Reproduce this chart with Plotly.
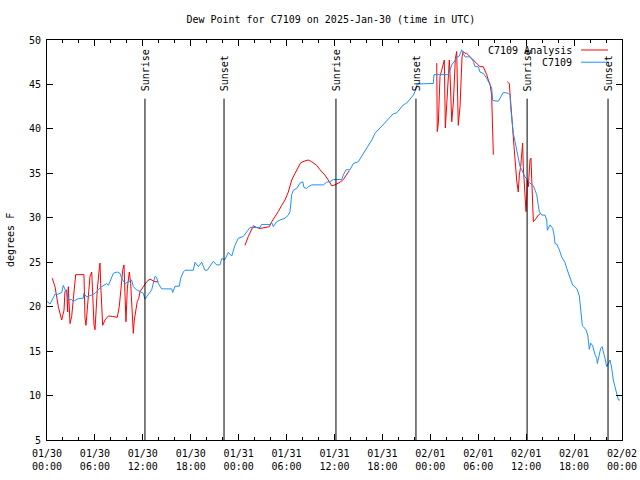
import pandas as pd
import plotly.graph_objects as go

START = pd.Timestamp("2025-01-30 00:00")

# Observed dew point (C7109): hours since 2025-01-30 00:00 UTC, degrees F
obs_hours = [0.0, 0.38, 1.0, 1.38, 1.84, 2.04, 2.47, 2.67, 3.09, 3.29, 3.92, 4.55, 4.6, 4.97, 5.6,
             6.01, 6.42, 6.85, 7.48, 7.68, 7.89, 8.3, 8.8, 9.14, 9.35, 9.77, 10.18, 10.6, 10.8, 11.23,
             11.65, 12.06, 12.27, 12.68, 13.11, 13.52, 13.73, 13.94, 14.36, 14.78, 15.61, 15.74, 16.03,
             16.57, 16.74, 17.07, 17.28, 18.32, 18.53, 18.95, 19.37, 19.78, 20.07, 20.82, 21.25, 21.66,
             21.88, 22.29, 22.7, 23.13, 23.54, 23.95, 24.58, 25.0, 25.42, 26.67, 26.88, 27.92, 28.14,
             28.34, 28.76, 29.18, 29.8, 30.22, 30.43, 30.64, 30.84, 31.27, 31.68, 32.02, 32.18, 32.52,
             32.72, 33.15, 34.6, 35.02, 35.44, 35.85, 36.9, 37.1, 37.44, 37.94, 38.36, 38.98, 39.41,
             39.82, 40.23, 40.66, 41.07, 41.49, 41.91, 42.11, 42.95, 43.36, 43.79, 44.2, 44.62, 45.04,
             45.46, 45.87, 46.08, 46.37, 47.96, 48.37, 48.46, 50.25, 50.46, 50.68, 51.09, 51.38, 51.63,
             51.93, 52.13, 52.34, 52.97, 53.38, 53.59, 54.01, 54.22, 54.63, 55.06, 55.26, 55.47, 55.68,
             55.81, 56.51, 56.94, 57.14, 57.77, 57.98, 58.06, 58.19, 58.32, 58.39, 58.6, 58.81, 59.01,
             59.23, 59.44, 59.64, 59.85, 60.06, 60.27, 60.48, 60.9, 61.11, 61.32, 61.52, 61.65, 61.95,
             62.36, 62.57, 62.65, 62.99, 63.33, 63.49, 63.61, 63.82, 64.15, 64.45, 64.86, 65.08, 65.49,
             65.83, 66.12, 66.4, 66.66, 66.83, 67.03, 67.16, 67.49, 67.71, 67.83, 67.91, 68.08, 68.33,
             68.62, 68.83, 68.91, 69.08, 69.33, 69.5, 69.66, 69.87, 70.08, 70.29, 70.5, 70.71, 70.91,
             71.12, 71.34, 71.54, 71.75]
obs_dewpt = [20.6, 20.3, 21.4, 21.4, 21.6, 22.4, 21.5, 20.75, 20.8, 20.6, 20.9, 20.95, 21.5, 21.1, 21.3,
             21.5, 21.9, 22.25, 22.6, 22.4, 22.8, 23.75, 23.9, 23.75, 23.2, 22.6, 22.8, 23.0, 22.25, 21.9,
             21.7, 21.5, 20.85, 21.4, 21.9, 23.4, 23.3, 22.6, 22.0, 22.0, 22.0, 21.6, 22.3,
             22.3, 23.2, 23.9, 24.1, 24.1, 25.0, 24.5, 25.0, 24.1, 24.1, 25.1, 24.7, 24.7,
             25.4, 25.3, 26.1, 25.7, 26.9, 27.7, 27.9, 28.4, 28.9, 28.9, 29.25, 29.25, 29.45,
             29.0, 29.55, 29.75, 29.95, 30.3, 30.7, 32.6, 33.1, 33.3, 33.9, 34.06, 33.4, 33.3,
             33.5, 33.7, 33.7, 34.0, 34.06, 34.3, 34.3, 34.8, 35.4, 35.4, 36.1, 36.3, 36.9,
             37.5, 38.0, 38.75, 39.5, 39.9, 40.4, 40.6, 41.3, 41.7, 41.8, 42.3, 42.7, 42.9,
             43.4, 43.8, 44.2, 45.05, 45.1, 45.1, 46.1, 46.1, 46.6, 47.2, 47.7, 48.1, 48.2,
             48.9, 48.5, 48.1, 48.1, 47.6, 47.0, 47.0, 46.4, 46.25, 45.7, 45.3, 44.9, 44.6,
             43.2, 43.1, 43.8, 44.1, 44.0, 43.8, 42.5, 41.4, 40.6, 39.5, 38.6, 37.6, 36.9,
             35.75, 35.4, 35.0, 34.6, 34.4, 34.06, 33.9, 33.6, 33.1, 32.6, 31.4, 30.7, 30.3,
             30.3, 29.75, 28.6, 29.2, 28.8, 28.1, 27.1, 27.05, 26.4, 25.6, 24.97, 24.3, 23.2,
             22.4, 22.25, 21.9, 21.2, 19.6, 17.9, 17.75, 17.4, 16.8, 16.06, 15.2, 15.9, 15.6,
             14.6, 14.2, 13.6, 14.45, 15.3, 15.5, 14.75, 14.2, 13.25, 13.7, 14.0, 13.1, 11.75,
             11.0, 10.25, 9.5, 9.5]

# Analysis dew point (C7109 Analysis); None marks gaps
ana_hours = [0.66, 1.0, 1.42, 1.84, 2.13, 2.25, 2.47, 2.59, 2.67, 2.88, 3.09, 3.29, 3.42, 3.59, 4.63,
             4.76, 4.88, 5.05, 5.17, 5.38, 5.6, 5.72, 5.89, 6.01, 6.14, 6.3, 6.55, 6.64, 6.72, 6.85,
             6.97, 7.26, 7.68, 8.23, 8.8, 9.05, 9.27, 9.48, 9.64, 9.77, 9.89, 10.06, 10.31, 10.48,
             10.64, 10.81, 10.93, 11.14, 11.31, 11.48, 11.65, 12.06, 12.48, 12.9, 13.52, 13.94,
             None,
             24.79, 25.21, 25.84, 26.26, 26.67, 27.84, 28.14, 28.55, 28.96, 29.39, 29.8, 30.22, 30.43,
             30.64, 31.06, 31.47, 31.77, 32.31, 32.72, 33.15, 33.77, 34.19, 34.81, 35.35, 35.65, 36.06,
             36.69, 37.1, 37.53, 37.85,
             None,
             48.8, 48.87, 49.0, 49.12, 49.21, 49.42, 49.62, 49.75, 49.88, 50.05, 50.21, 50.38, 50.46,
             50.68, 50.88, 51.0, 51.13, 51.3, 51.38, 51.5, 51.72, 51.84, 51.97, 52.13, 52.34, 52.55,
             52.97, 53.38, 53.81, 54.01, 54.22, 54.63, 54.85, 55.06, 55.26, 55.47, 55.68, 55.81, 55.89,
             None,
             57.64, 57.89, 57.98, 58.06, 58.19, 58.32, 58.48, 58.6, 58.73, 58.81, 59.01, 59.14, 59.31,
             59.44, 59.56, 59.64, 59.73, 59.85, 59.98, 60.06, 60.14, 60.27, 60.39, 60.48, 60.6, 60.73,
             60.81, 60.9, 61.23, 61.52, 61.82]
ana_dewpt = [23.2, 22.25, 20.0, 18.5, 19.6, 21.7, 21.9, 19.4, 22.25, 18.1, 18.9, 20.9, 22.25, 23.6, 23.6,
             18.7, 17.9, 20.0, 21.9, 23.4, 23.9, 20.9, 17.9, 17.4, 20.2, 21.9, 24.3, 24.9, 22.6, 19.6,
             17.9, 18.5, 18.95, 18.9, 18.8, 20.0, 22.6, 24.1, 24.7, 21.1, 18.3, 22.1, 23.9, 22.6,
             19.25, 17.0, 18.5, 19.6, 20.6, 20.9, 21.7, 22.25, 22.8, 23.1, 22.8, 22.8,
             None,
             26.9, 27.9, 29.1, 28.9, 28.8, 29.0, 29.56, 30.1, 30.7, 31.4, 32.0, 32.9, 33.7,
             34.25, 35.0, 35.75, 36.2, 36.4, 36.5, 36.3, 35.9, 35.4, 34.8, 34.06, 33.6, 33.7,
             34.0, 34.3, 34.8, 35.3,
             None,
             47.4, 39.7, 40.6, 43.25, 45.9, 46.6, 47.4, 47.75, 40.1, 42.3, 45.1, 47.75, 46.25,
             40.8, 42.9, 46.25, 47.9, 48.7, 46.0, 40.4, 42.5, 45.1, 48.1, 48.7, 48.5, 48.5,
             48.1, 47.75, 47.4, 47.2, 47.0, 47.0, 46.6, 46.1, 45.5, 45.05, 43.8, 39.5, 37.1,
             None,
             45.3, 45.1, 44.0, 42.7, 41.4, 39.9, 38.0, 36.5, 35.4, 34.25, 32.9, 34.8, 35.75,
             37.25, 38.4, 35.75, 34.4, 32.6, 30.7, 32.0, 34.25, 33.5, 35.0, 36.5, 36.7, 34.25,
             31.25, 29.56, 29.9, 30.3, 30.5]

# Sun events (UTC)
sun_labels = ["Sunrise", "Sunset", "Sunrise", "Sunset", "Sunrise", "Sunset"]
sun_times = ["2025-01-30 12:16", "2025-01-30 22:10", "2025-01-31 12:11",
             "2025-01-31 22:12", "2025-02-01 12:07", "2025-02-01 22:15"]

y_min, y_max = 5, 50
x_end = "2025-02-02 00:00"


def to_time(hours):
    return [None if h is None else START + pd.Timedelta(hours=h) for h in hours]


FONT = "DejaVu Sans Mono"
FS = 10
fig = go.Figure()
fig.add_trace(go.Scatter(x=to_time(ana_hours), y=ana_dewpt, mode="lines", name="C7109 Analysis",
                         line=dict(color="#ff0000", width=1), connectgaps=False, showlegend=False))
fig.add_trace(go.Scatter(x=to_time(obs_hours), y=obs_dewpt, mode="lines", name="C7109",
                         line=dict(color="#1e90ff", width=1), showlegend=False))

for lab, t in zip(sun_labels, sun_times):
    fig.add_shape(type="line", xref="x", yref="y", x0=t, x1=t, y0=y_min, y1=43.4,
                  line=dict(color="black", width=1))
    fig.add_annotation(x=t, y=44.0, xref="x", yref="y", text=lab, textangle=-90,
                       showarrow=False, xanchor="center", yanchor="bottom",
                       font=dict(family=FONT, size=FS, color="black"))

# manual gnuplot-style legend (text left of sample line)
for i, (name, col) in enumerate([("C7109 Analysis", "#ff0000"), ("C7109", "#1e90ff")]):
    yy = 0.975 - i * 0.0305
    fig.add_annotation(x=0.9165, y=yy, xref="paper", yref="paper", text=name, showarrow=False,
                       xanchor="right", yanchor="middle",
                       font=dict(family=FONT, size=FS, color="black"))
    fig.add_shape(type="line", xref="paper", yref="paper", x0=0.9287, x1=0.9757, y0=yy, y1=yy,
                  line=dict(color=col, width=1))

ticks = pd.date_range(START, x_end, freq="6h")
fig.update_xaxes(range=[START, x_end], tickvals=ticks, automargin=False,
                 ticktext=[t.strftime("%m/%d<br>%H:%M") for t in ticks],
                 ticks="inside", ticklen=6, tickcolor="black", showline=True, linecolor="black",
                 linewidth=1, mirror="allticks", showgrid=False, zeroline=False,
                 ticklabelstandoff=4,
                 minor=dict(dtick=2 * 3600 * 1000, ticks="inside", ticklen=3, tickcolor="black",
                            showgrid=False),
                 tickfont=dict(family=FONT, size=FS, color="black"))
fig.update_yaxes(range=[y_min, y_max], dtick=5, ticks="inside", ticklen=6, tickcolor="black",
                 showline=True, linecolor="black", linewidth=1, mirror="allticks", showgrid=False,
                 zeroline=False, ticklabelstandoff=3, automargin=False,
                 tickfont=dict(family=FONT, size=FS, color="black"))
fig.add_annotation(x=-0.0643, y=0.5, xref="paper", yref="paper", text="degrees F", textangle=-90,
                   showarrow=False, xanchor="center", yanchor="middle",
                   font=dict(family=FONT, size=FS, color="black"))
fig.update_layout(
    width=640, height=480,
    margin=dict(l=47, r=18, t=40, b=40, autoexpand=False),
    paper_bgcolor="white", plot_bgcolor="white",
    title=dict(text="Dew Point for C7109 on 2025-Jan-30 (time in UTC)", x=0.517, xanchor="center",
               xref="container", yref="container", y=0.96, yanchor="middle",
               font=dict(family=FONT, size=FS, color="black")),
)
fig.write_html("out.html", config={"displayModeBar": False},
               post_script="document.body.style.margin='0';")
